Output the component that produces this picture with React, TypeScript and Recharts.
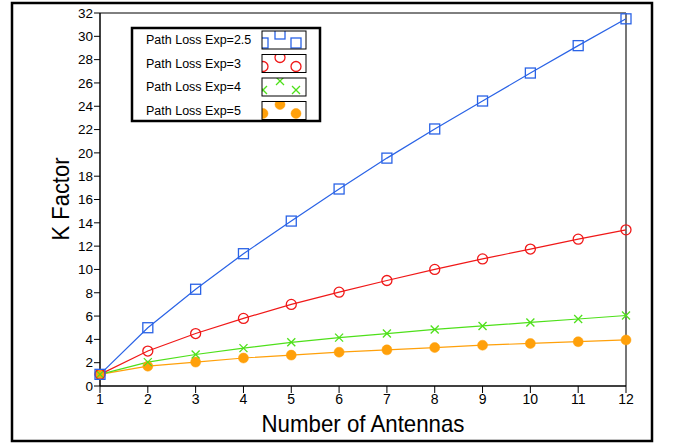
import React from 'react';
import { LineChart, Line, XAxis, YAxis, ReferenceLine, Customized } from 'recharts';

const antennas = [1, 2, 3, 4, 5, 6, 7, 8, 9, 10, 11, 12];
const exp25 = [1, 5.0, 8.3, 11.35, 14.15, 16.9, 19.55, 22.05, 24.45, 26.85, 29.2, 31.5];
const exp3 = [1, 3.0, 4.5, 5.8, 7.0, 8.05, 9.05, 10.0, 10.9, 11.75, 12.6, 13.4];
const exp4 = [1, 2.05, 2.7, 3.25, 3.75, 4.15, 4.5, 4.85, 5.15, 5.45, 5.75, 6.05];
const exp5 = [1, 1.7, 2.05, 2.4, 2.65, 2.9, 3.1, 3.3, 3.5, 3.65, 3.8, 3.95];
const yTicks = [0, 2, 4, 6, 8, 10, 12, 14, 16, 18, 20, 22, 24, 26, 28, 30, 32];
const legendLabels = ['Path Loss Exp=2.5', 'Path Loss Exp=3', 'Path Loss Exp=4', 'Path Loss Exp=5'];

const BLUE = '#2a63e6';
const RED = '#f01818';
const GREEN = '#4ee01a';
const ORANGE = '#ffa00a';
const colors = [BLUE, RED, GREEN, ORANGE];
const shapes = ['square', 'circle', 'cross', 'dot'];

const data = antennas.map((n, i) => ({ n, a: exp25[i], b: exp3[i], c: exp4[i], d: exp5[i] }));

const FONT = '"Liberation Sans", Arial, sans-serif';

function Marker({ cx, cy, shape, color }: any) {
  if (cx == null || cy == null) return null;
  if (shape === 'square')
    return <rect x={cx - 5} y={cy - 5} width={10} height={10} fill="none" stroke={color} strokeWidth={1.3} />;
  if (shape === 'circle') return <circle cx={cx} cy={cy} r={5} fill="none" stroke={color} strokeWidth={1.3} />;
  if (shape === 'cross')
    return (
      <g stroke={color} strokeWidth={1.3}>
        <line x1={cx - 4} y1={cy - 4} x2={cx + 4} y2={cy + 4} />
        <line x1={cx - 4} y1={cy + 4} x2={cx + 4} y2={cy - 4} />
      </g>
    );
  return <circle cx={cx} cy={cy} r={5} fill={color} stroke={color} strokeWidth={0.5} />;
}

const mkDot = (shape: string, color: string) => (p: any) => (
  <Marker key={`${shape}-${p.index}`} cx={p.cx} cy={p.cy} shape={shape} color={color} />
);

function Frame() {
  return (
    <g>
      <rect x={12} y={3} width={640} height={438} fill="none" stroke="#000" strokeWidth={2.5} />
      <text x={69} y={199} transform="rotate(-90 69 199)" textAnchor="middle" fontFamily={FONT} fontSize={24} textLength={83} lengthAdjust="spacingAndGlyphs" fill="#000">K Factor</text>
      <text x={363} y={432} textAnchor="middle" fontFamily={FONT} fontSize={24} textLength={203} lengthAdjust="spacingAndGlyphs" fill="#000">Number of Antennas</text>
    </g>
  );
}

function LegendBox() {
  const rows = [31, 54.5, 78, 101.5];
  return (
    <g>
      <rect x={132} y={28} width={188} height={93} fill="#fff" stroke="#000" strokeWidth={2.5} />
      {legendLabels.map((lab, i) => {
        const y0 = rows[i];
        const id = `clip${i}`;
        return (
          <g key={lab}>
            <text x={146} y={y0 + 13} fontFamily={FONT} fontSize={12.5} fill="#000">{lab}</text>
            <defs>
              <clipPath id={id}>
                <rect x={262} y={y0} width={44} height={18} />
              </clipPath>
            </defs>
            <g clipPath={`url(#${id})`}>
              <Marker cx={263} cy={y0 + 12} shape={shapes[i]} color={colors[i]} />
              <Marker cx={280} cy={y0 + 3} shape={shapes[i]} color={colors[i]} />
              <Marker cx={296} cy={y0 + 12} shape={shapes[i]} color={colors[i]} />
            </g>
            <rect x={262} y={y0} width={44} height={18} fill="none" stroke="#000" strokeWidth={1} />
          </g>
        );
      })}
    </g>
  );
}

export default function App() {
  return (
    <div style={{ position: 'absolute', left: 0, top: 0, background: '#fff' }}>
      <LineChart width={674} height={443} data={data} margin={{ top: 13, right: 48, left: 40, bottom: 27 }}>
        <Customized component={Frame} />
        <XAxis
          dataKey="n"
          type="number"
          domain={[1, 12]}
          ticks={antennas}
          height={30}
          tickSize={7}
          axisLine={{ stroke: '#000', strokeWidth: 1.5 }}
          tickLine={{ stroke: '#000' }}
          tick={{ fontFamily: FONT, fontSize: 14, fill: '#000' }}
          tickMargin={1}
        />
        <YAxis
          type="number"
          domain={[0, 32]}
          ticks={yTicks}
          width={60}
          tickSize={6}
          interval={0}
          axisLine={{ stroke: '#000', strokeWidth: 1.5 }}
          tickLine={{ stroke: '#000' }}
          tick={{ fontFamily: FONT, fontSize: 13.5, fill: '#000' }}
          tickMargin={1}
        />
        <ReferenceLine y={32} stroke="#000" strokeWidth={1} />
        <ReferenceLine x={12} stroke="#777" strokeWidth={2} />
        <Line dataKey="d" stroke={ORANGE} strokeWidth={1.2} dot={mkDot('dot', ORANGE)} isAnimationActive={false} />
        <Line dataKey="c" stroke={GREEN} strokeWidth={1.2} dot={mkDot('cross', GREEN)} isAnimationActive={false} />
        <Line dataKey="b" stroke={RED} strokeWidth={1.2} dot={mkDot('circle', RED)} isAnimationActive={false} />
        <Line dataKey="a" stroke={BLUE} strokeWidth={1.2} dot={mkDot('square', BLUE)} isAnimationActive={false} />
        <Customized component={LegendBox} />
      </LineChart>
    </div>
  );
}
